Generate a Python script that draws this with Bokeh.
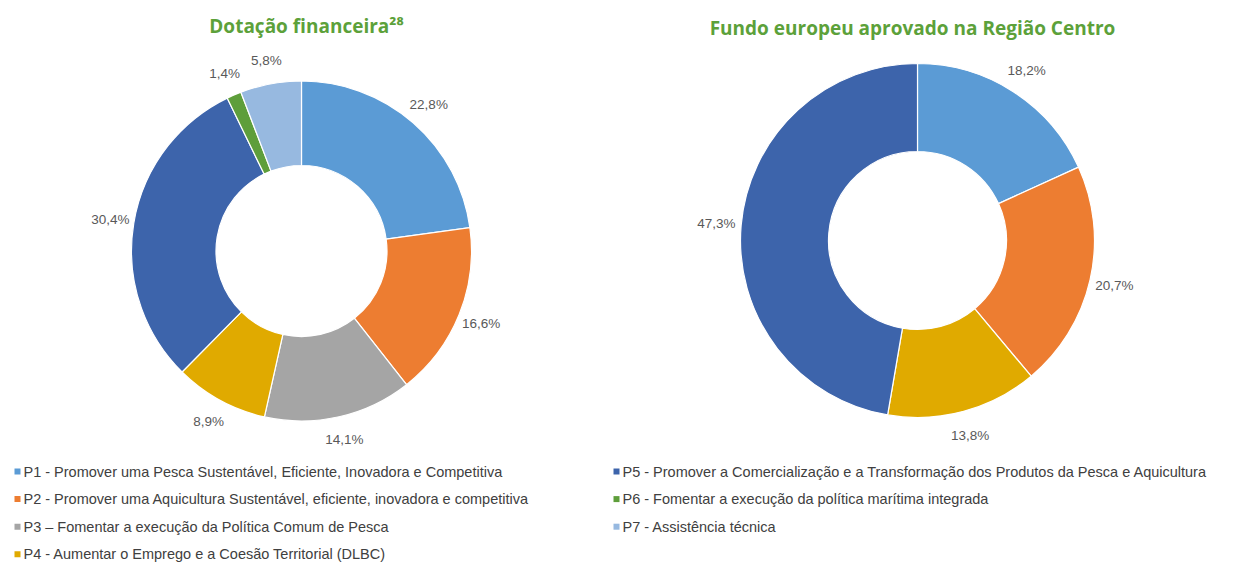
import math
from bokeh.plotting import figure
from bokeh.models import Range1d, ColumnDataSource
from bokeh.core.properties import value
from bokeh.embed import file_html
from bokeh.resources import INLINE

# ---------------- data ----------------
categories = [
    "P1 - Promover uma Pesca Sustentável, Eficiente, Inovadora e Competitiva",
    "P2 - Promover uma Aquicultura Sustentável, eficiente, inovadora e competitiva",
    "P3 – Fomentar a execução da Política  Comum de Pesca",
    "P4 - Aumentar o Emprego e a Coesão Territorial  (DLBC)",
    "P5 - Promover a Comercialização e a Transformação dos Produtos da Pesca e Aquicultura",
    "P6 - Fomentar a execução da política marítima integrada",
    "P7 - Assistência técnica",
]
dotacao_financeira = [22.8, 16.6, 14.1, 8.9, 30.4, 1.4, 5.8]
fundo_europeu_centro = [18.2, 20.7, 0.0, 13.8, 47.3, 0.0, 0.0]
colors = ["#5B9BD5", "#ED7D31", "#A5A5A5", "#E0AA00", "#3D64AB", "#5E9E3B", "#97B9E0"]
titles = ["Dotação financeira²⁸", "Fundo europeu aprovado na Região Centro"]

# ---------------- layout ----------------
W, H = 1224, 563


def sx(x):
    return x


def sy(y):
    return H - y


p = figure(width=W, height=H, x_range=Range1d(0, W), y_range=Range1d(0, H),
           output_backend="svg", toolbar_location=None, min_border=0,
           x_axis_location=None, y_axis_location=None)
p.grid.visible = False
p.outline_line_color = None
p.background_fill_color = "white"
p.border_fill_color = "white"

TXT_FONT = "Liberation Sans"
TITLE_FONT = "Open Sans"

donuts = [
    dict(values=dotacao_financeira, cx=301, cy=250.5, outer=170, inner=85.5, title=titles[0], tx=306, ty=25),
    dict(values=fundo_europeu_centro, cx=917, cy=240, outer=177, inner=89, title=titles[1], tx=912, ty=27),
]

for d in donuts:
    cx, cy = sx(d["cx"]), sy(d["cy"])
    starts, ends, cols, lx, ly, lt = [], [], [], [], [], []
    total = sum(d["values"])
    cum = 0.0
    for v, c in zip(d["values"], colors):
        if v <= 0:
            continue
        a0 = math.pi / 2 - 2 * math.pi * cum / total
        a1 = math.pi / 2 - 2 * math.pi * (cum + v) / total
        mid = math.pi / 2 - 2 * math.pi * (cum + v / 2) / total
        starts.append(a0)
        ends.append(a1)
        cols.append(c)
        rl = d["outer"] * 1.14
        lx.append(cx + rl * math.cos(mid))
        ly.append(cy + rl * math.sin(mid))
        lt.append(f"{v:.1f}".replace(".", ",") + "%")
        cum += v
    src = ColumnDataSource(dict(start=starts, end=ends, color=cols))
    p.annular_wedge(x=cx, y=cy, inner_radius=d["inner"], outer_radius=d["outer"],
                    start_angle="start", end_angle="end", direction="clock",
                    fill_color="color", line_color="white", line_width=1.2, source=src)
    lsrc = ColumnDataSource(dict(x=lx, y=ly, text=lt))
    p.text(x="x", y="y", text="text", source=lsrc, text_align="center", text_baseline="middle",
           text_font=value(TXT_FONT), text_font_size="13.5px", text_color="#595959")
    p.text(x=[sx(d["tx"])], y=[sy(d["ty"])], text=[d["title"]], text_align="center",
           text_baseline="middle", text_font=value(TITLE_FONT), text_font_style="bold",
           text_font_size="19px", text_color="#5CA13A")

# ---------------- legend ----------------
mx, my = [], []
tx, ty = [], []
for i, (cat, c) in enumerate(zip(categories, colors)):
    col, row = divmod(i, 4)
    x0 = 17 + col * 599
    y0 = 471 + row * 27.6
    mx.append(sx(x0))
    my.append(sy(y0))
    tx.append(sx(x0 + 6))
    ty.append(sy(y0))
p.rect(x=mx, y=my, width=6, height=6, fill_color=colors, line_color=None)
p.text(x=tx, y=ty, text=categories, text_align="left", text_baseline="middle",
       text_font=value(TXT_FONT), text_font_size="14.5px", text_color="#404040")

open("out.html", "w").write(file_html(p, INLINE))
